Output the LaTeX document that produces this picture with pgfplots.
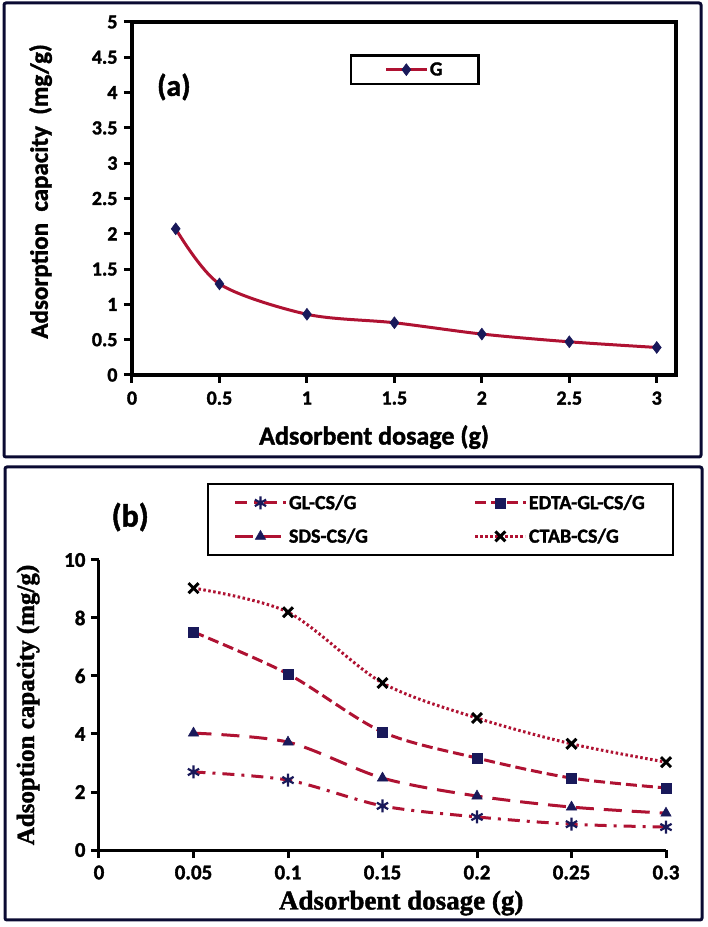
\documentclass[border=0pt]{standalone}
\usepackage{fontspec}
\setmainfont{Carlito}[BoldFeatures={FakeBold=1.5}]
\newfontfamily\timesf{Liberation Serif}[BoldFeatures={FakeBold=1.5}]
\usepackage{pgfplots}
\pgfplotsset{compat=1.18}
\definecolor{linered}{RGB}{175,18,50}
\definecolor{marknavy}{RGB}{25,25,90}
\definecolor{framenavy}{RGB}{10,10,50}
\newcommand{\tla}{\fontsize{20}{20}\selectfont\bfseries}
\newcommand{\tlb}{\fontsize{21}{21}\selectfont\bfseries}

\begin{document}
\begin{tikzpicture}[x=1pt,y=1pt]
% outer frames of the two panels
\draw[framenavy, line width=3pt, rounded corners=2pt] (4,470) rectangle (701,924);
\draw[framenavy, line width=3pt, rounded corners=2pt] (5,7) rectangle (702,460);

% ---------- panel (a)
\begin{axis}[
    at={(132pt,552pt)}, anchor=south west,
    scale only axis, width=544pt, height=353pt,
    xmin=0, xmax=3.11, ymin=0, ymax=5,
    xtick={0,0.5,1,1.5,2,2.5,3},
    ytick={0,0.5,1,1.5,2,2.5,3,3.5,4,4.5,5},
    tick pos=left, tick align=outside,
    major tick length=8pt,
    axis line style={line width=4pt},
    major tick style={black, line width=3pt},
    xticklabel style={yshift=-5pt},
    yticklabel style={xshift=-3pt},
    xticklabel={\tla\pgfmathprintnumber[fixed,assume math mode=true]{\tick}},
    yticklabel={\tla\pgfmathprintnumber[fixed,assume math mode=true]{\tick}},
    xlabel={Adsorbent dosage (g)},
    ylabel={Adsorption\ \ capacity\ \ (mg/g)},
    xlabel style={font=\bfseries\fontsize{26}{26}\selectfont,
        at={(axis description cs:0.445,-0.176)}, anchor=center},
    ylabel style={font=\bfseries\fontsize{25}{25}\selectfont,
        at={(axis description cs:-0.168,0.52)}, anchor=center},
    clip=false,
    legend style={at={(axis description cs:0.40,0.909)}, anchor=north west,
        draw=black, line width=2.5pt, inner xsep=34pt, inner ysep=5pt,
        font=\bfseries\fontsize{20}{20}\selectfont},
    legend image code/.code={\draw[#1, mark repeat=2, mark phase=2]
        plot coordinates {(0pt,0pt) (20pt,0pt) (40pt,0pt)};},
]
\addplot[linered, line width=3pt, smooth, mark=diamond*, mark size=6pt,
    mark options={draw=marknavy, fill=marknavy, line width=0.5pt}]
    coordinates {
    (0.25,2.07)(0.5,1.29)(1,0.86)(1.5,0.74)(2,0.58)(2.5,0.47)(3,0.39)
    };
\addlegendentry{G}
\node[font=\bfseries\fontsize{30}{30}\selectfont] at (axis description cs:0.077,0.816) {(a)};
\end{axis}

% ---------- panel (b)
\begin{axis}[
    at={(99pt,77pt)}, anchor=south west,
    scale only axis, width=567pt, height=290pt,
    xmin=0, xmax=0.3, ymin=0, ymax=10,
    xtick={0,0.05,0.1,0.15,0.2,0.25,0.3},
    ytick={0,2,4,6,8,10},
    axis x line*=bottom, axis y line*=left,
    tick align=outside,
    major tick length=8pt,
    axis line style={line width=3pt},
    major tick style={black, line width=3pt},
    xticklabel style={yshift=-4pt},
    yticklabel style={xshift=-2pt},
    xticklabel={\tlb\pgfmathprintnumber[fixed,precision=2,assume math mode=true]{\tick}},
    yticklabel={\tlb\pgfmathprintnumber[fixed,assume math mode=true]{\tick}},
    xlabel={Adsorbent dosage (g)},
    ylabel={Adsoption capacity (mg/g)},
    xlabel style={font=\timesf\bfseries\fontsize{27}{27}\selectfont,
        at={(axis description cs:0.533,-0.183)}, anchor=center},
    ylabel style={font=\timesf\bfseries\fontsize{25}{25}\selectfont,
        at={(axis description cs:-0.125,0.5)}, anchor=center},
    clip=false,
    legend columns=2,
    legend style={at={(axis description cs:0.19,1.266)}, anchor=north west,
        draw=black, line width=2.5pt, inner xsep=26pt, inner ysep=9pt,
        row sep=14pt,
        font=\bfseries\fontsize{20}{20}\selectfont,
        /tikz/every even column/.append style={column sep=104pt}},
    legend cell align=left,
    legend image code/.code={\draw[#1, mark repeat=2, mark phase=2]
        plot coordinates {(0pt,0pt) (25pt,0pt) (50pt,0pt)};},
]
\addplot[linered, line width=3pt, smooth,
    dash pattern=on 12pt off 7pt on 3pt off 7pt,
    mark=asterisk, mark size=6.5pt,
    mark options={solid, draw=marknavy, line width=2.2pt}]
    coordinates {
    (0.05,2.69)(0.1,2.41)(0.15,1.52)(0.2,1.14)(0.25,0.89)(0.3,0.79)
    };
\addlegendentry{GL-CS/G}
\addplot[linered, line width=3pt, smooth,
    dash pattern=on 11pt off 5pt,
    mark=square*, mark size=5pt,
    mark options={solid, draw=marknavy, fill=marknavy, line width=0.5pt}]
    coordinates {
    (0.05,7.52)(0.1,6.07)(0.15,4.07)(0.2,3.17)(0.25,2.48)(0.3,2.14)
    };
\addlegendentry{EDTA-GL-CS/G}
\addplot[linered, line width=3pt, smooth,
    dash pattern=on 18pt off 10pt,
    mark=triangle*, mark size=6pt,
    mark options={solid, draw=marknavy, fill=marknavy, line width=0.5pt}]
    coordinates {
    (0.05,4.03)(0.1,3.72)(0.15,2.48)(0.2,1.86)(0.25,1.48)(0.3,1.27)
    };
\addlegendentry{SDS-CS/G}
\addplot[linered, line width=3pt, smooth,
    dash pattern=on 2.5pt off 2.5pt,
    mark=x, mark size=7pt,
    mark options={solid, draw=black, line width=3pt}]
    coordinates {
    (0.05,9.03)(0.1,8.2)(0.15,5.76)(0.2,4.55)(0.25,3.66)(0.3,3.03)
    };
\addlegendentry{CTAB-CS/G}
\node[font=\bfseries\fontsize{32}{32}\selectfont] at (axis description cs:0.055,1.148) {(b)};
\end{axis}

\pgfresetboundingbox
\path (0,0) rectangle (708,927);
\end{tikzpicture}
\end{document}
